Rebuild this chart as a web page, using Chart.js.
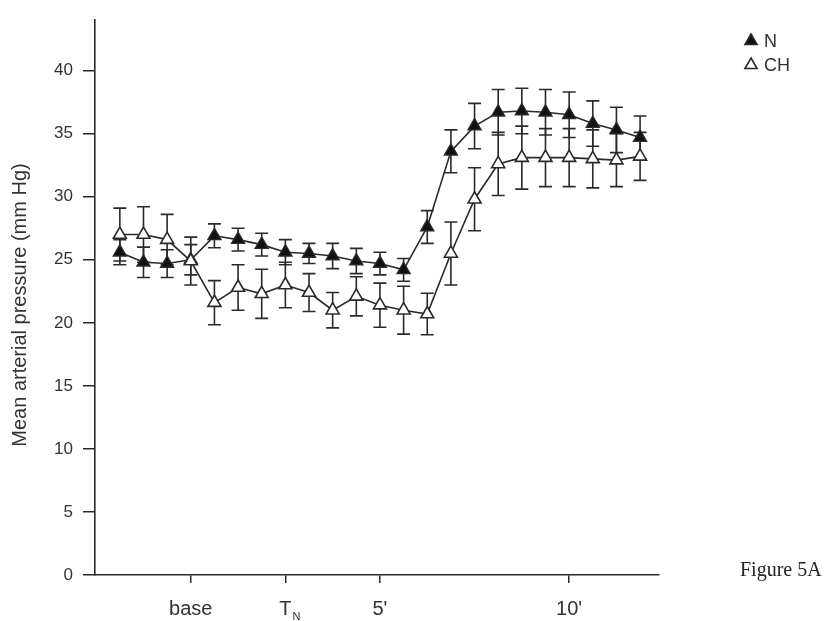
<!DOCTYPE html>
<html>
<head>
<meta charset="utf-8">
<script src="https://cdn.jsdelivr.net/npm/chart.js@4.4.1/dist/chart.umd.min.js"></script>
<style>
  html, body { margin: 0; padding: 0; background: #fff; }
  #wrap { width: 825px; height: 621px; position: relative; }
</style>
</head>
<body>
<div id="wrap"><canvas id="chart"></canvas></div>
<script>
// time points (sample index), base / T_N / 5' / 10' sit on 3, 7, 11, 19
const time = [0, 1, 2, 3, 4, 5, 6, 7, 8, 9, 10, 11, 12, 13, 14, 15, 16, 17, 18, 19, 20, 21, 22];
const nMean = [25.6, 24.8, 24.7, 25.0, 26.9, 26.6, 26.2, 25.6, 25.5, 25.3, 24.9, 24.7, 24.2, 27.6, 33.6, 35.6, 36.7, 36.8, 36.7, 36.5, 35.8, 35.3, 34.7];
const nErr = [1.0, 1.2, 1.1, 1.2, 0.95, 0.9, 0.9, 1.0, 0.8, 1.0, 1.0, 0.9, 0.9, 1.3, 1.7, 1.8, 1.8, 1.8, 1.8, 1.8, 1.8, 1.8, 1.7];
const chMean = [27.0, 27.0, 26.6, 24.9, 21.6, 22.8, 22.3, 23.0, 22.4, 21.0, 22.1, 21.4, 21.0, 20.7, 25.5, 29.8, 32.6, 33.1, 33.1, 33.1, 33.0, 32.9, 33.2];
const chErr = [2.1, 2.2, 2.0, 1.9, 1.75, 1.8, 1.95, 1.8, 1.5, 1.4, 1.55, 1.75, 1.9, 1.65, 2.5, 2.5, 2.5, 2.5, 2.3, 2.3, 2.3, 2.1, 1.9];

const tickPos = [3, 7, 11, 19];
const tickLabels = ['base', 'T', "5'", "10'"];
const seriesNames = ['N', 'CH'];
const yTitle = 'Mean arterial pressure (mm Hg)';

const ink = '#2a2a2a';
const sans = '"Liberation Sans", Arial, sans-serif';
const errs = [nErr, chErr];

const errorBars = {
  id: 'errorBars',
  beforeDatasetsDraw(chart) {
    const { ctx, scales: { x, y } } = chart;
    ctx.save();
    ctx.strokeStyle = ink;
    ctx.lineWidth = 1.6;
    chart.data.datasets.forEach((ds, d) => {
      ds.data.forEach((p, i) => {
        const px = x.getPixelForValue(p.x);
        const top = y.getPixelForValue(p.y + errs[d][i]);
        const bot = y.getPixelForValue(p.y - errs[d][i]);
        ctx.beginPath();
        ctx.moveTo(px, top); ctx.lineTo(px, bot);
        ctx.moveTo(px - 6.5, top); ctx.lineTo(px + 6.5, top);
        ctx.moveTo(px - 6.5, bot); ctx.lineTo(px + 6.5, bot);
        ctx.stroke();
      });
    });
    ctx.restore();
  }
};

const extras = {
  id: 'extras',
  afterDraw(chart) {
    const { ctx, scales: { x } } = chart;
    ctx.save();
    // subscript on T_N
    const tx = x.getPixelForValue(7);
    ctx.font = '20px ' + sans;
    const tw = ctx.measureText('T').width;
    ctx.font = '11px ' + sans;
    ctx.fillStyle = '#333';
    ctx.textBaseline = 'alphabetic';
    ctx.fillText('N', tx + tw / 2 + 1, 620);

    // y title
    ctx.save();
    ctx.translate(20, 305);
    ctx.rotate(-Math.PI / 2);
    ctx.font = '20px ' + sans;
    ctx.textAlign = 'center';
    ctx.textBaseline = 'middle';
    ctx.fillText(yTitle, 0, 0);
    ctx.restore();

    // legend
    const ly = [41, 65];
    seriesNames.forEach((name, k) => {
      ctx.fillStyle = k === 0 ? '#111' : '#fff';
      ctx.strokeStyle = ink;
      ctx.lineWidth = 1.6;
      Chart.helpers.drawPoint(ctx, { pointStyle: 'triangle', radius: 7, borderWidth: 1.6 }, 751, ly[k]);
    });
    ctx.font = '18px ' + sans;
    ctx.fillStyle = '#333';
    ctx.textBaseline = 'middle';
    seriesNames.forEach((name, k) => ctx.fillText(name, 764, ly[k] + 1));

    // figure caption
    ctx.font = '20px "Liberation Serif", "Times New Roman", serif';
    ctx.fillStyle = '#222';
    ctx.textBaseline = 'alphabetic';
    ctx.fillText('Figure 5A', 740, 576);
    ctx.restore();
  }
};

new Chart(document.getElementById('chart'), {
  type: 'line',
  data: {
    datasets: [
      {
        label: seriesNames[0],
        data: time.map((t, i) => ({ x: t, y: nMean[i] })),
        borderColor: ink,
        borderWidth: 1.6,
        pointStyle: 'triangle',
        pointRadius: 7.5,
        pointBackgroundColor: '#111',
        pointBorderColor: ink,
        pointBorderWidth: 1.4,
        tension: 0,
        order: 1
      },
      {
        label: seriesNames[1],
        data: time.map((t, i) => ({ x: t, y: chMean[i] })),
        borderColor: ink,
        borderWidth: 1.6,
        pointStyle: 'triangle',
        pointRadius: 7.5,
        pointBackgroundColor: '#fff',
        pointBorderColor: ink,
        pointBorderWidth: 1.6,
        tension: 0,
        order: 0
      }
    ]
  },
  options: {
    responsive: true,
    maintainAspectRatio: false,
    animation: false,
    layout: { padding: { top: 5, right: 166, left: 0, bottom: 0 } },
    plugins: { legend: { display: false }, tooltip: { enabled: false } },
    scales: {
      x: {
        type: 'linear',
        min: -1.05,
        max: 22.8,
        afterBuildTicks: s => { s.ticks = tickPos.map(v => ({ value: v })); },
        afterFit: s => { s.height = 46; },
        ticks: {
          callback: v => tickLabels[tickPos.indexOf(v)],
          font: { family: sans, size: 20 },
          color: '#333',
          padding: 14,
          maxRotation: 0,
          autoSkip: false
        },
        grid: { drawOnChartArea: false, tickLength: 8, color: ink, lineWidth: 1.5 },
        border: { color: ink, width: 1.6 }
      },
      y: {
        min: 0,
        max: 44,
        afterFit: s => { s.width = 95; },
        ticks: {
          stepSize: 5,
          includeBounds: false,
          font: { family: sans, size: 17 },
          color: '#333',
          padding: 10
        },
        grid: { drawOnChartArea: false, tickLength: 12, color: ink, lineWidth: 1.5 },
        border: { color: ink, width: 1.6 }
      }
    }
  },
  plugins: [errorBars, extras]
});
</script>
</body>
</html>
